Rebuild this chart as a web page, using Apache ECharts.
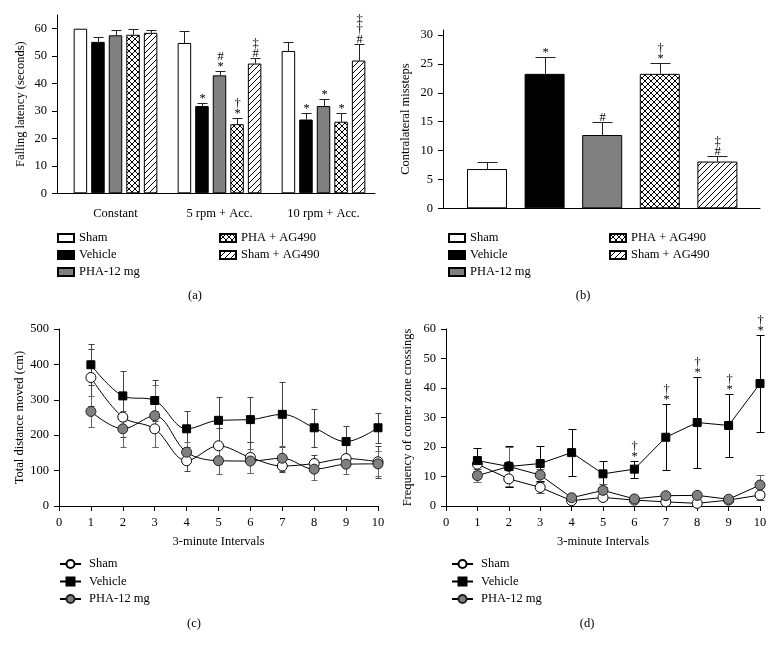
<!DOCTYPE html>
<html><head><meta charset="utf-8">
<script src="https://cdn.jsdelivr.net/npm/echarts@6/dist/echarts.min.js"></script>
<style>html,body{margin:0;padding:0;background:#fff}#c{width:773px;height:650px}</style>
</head><body><div id="c"></div>
<script>
// ---------------- data ----------------
const groupNames = ['Sham', 'Vehicle', 'PHA-12 mg', 'PHA + AG490', 'Sham + AG490'];
const lineGroupNames = ['Sham', 'Vehicle', 'PHA-12 mg'];

// (a) rotarod
const rotarodCategories = ['Constant', '5 rpm + Acc.', '10 rpm + Acc.'];
const rotarodPositions = [1, 2, 3];
const rotarodSham = [60, 54.8, 51.9];
const rotarodShamErr = [0, 4.2, 3.1];
const rotarodVehicle = [55.2, 31.8, 26.9];
const rotarodVehicleErr = [1.8, 1.2, 2.2];
const rotarodPHA = [57.6, 43.0, 31.8];
const rotarodPHAErr = [2.0, 1.5, 2.7];
const rotarodPHAAG = [57.8, 25.2, 26.1];
const rotarodPHAAGErr = [2.2, 2.4, 3.0];
const rotarodShamAG = [58.5, 47.3, 48.4];
const rotarodShamAGErr = [1.1, 2.2, 6.1];
const rotarodShamMarks = [[], [], []];
const rotarodVehicleMarks = [[], ['*'], ['*']];
const rotarodPHAMarks = [[], ['*', '#'], ['*']];
const rotarodPHAAGMarks = [[], ['*', '†'], ['*']];
const rotarodShamAGMarks = [[], ['#', '‡'], ['#', '†', '‡']];
const rotarodTicks = [0, 10, 20, 30, 40, 50, 60];

// (b) missteps
const misstepPositions = [1, 2, 3, 4, 5];
const misstepValues = [6.8, 23.3, 12.7, 23.3, 8.1];
const misstepErr = [1.2, 2.9, 2.3, 1.8, 0.9];
const misstepMarks = [[], ['*'], ['#'], ['*', '†'], ['#', '‡']];
const misstepTicks = [0, 5, 10, 15, 20, 25, 30];

// (c) distance moved
const intervals = [1, 2, 3, 4, 5, 6, 7, 8, 9, 10];
const intervalTicks = [0, 1, 2, 3, 4, 5, 6, 7, 8, 9, 10];
const distSham = [363, 251, 218, 128, 170, 137, 113, 120, 134, 125];
const distShamErr = [81, 55, 50, 28, 50, 45, 18, 25, 12, 45];
const distVehicle = [399, 311, 298, 218, 242, 244, 259, 221, 182, 221];
const distVehicleErr = [58, 70, 59, 50, 65, 63, 92, 53, 43, 43];
const distPHA = [267, 218, 255, 152, 128, 127, 135, 104, 118, 119];
const distPHAErr = [45, 50, 88, 30, 38, 35, 35, 30, 28, 35];
const distanceTicks = [0, 100, 200, 300, 400, 500];

// (d) corner zone crossings
const crossSham = [14.2, 9.2, 6.3, 1.8, 2.9, 2.0, 1.4, 0.9, 2.0, 3.7];
const crossShamErr = [2.5, 2.9, 1.9, 0.6, 0.8, 0.5, 0.5, 0.4, 0.5, 1.5];
const crossVehicle = [15.4, 13.4, 14.4, 18.1, 10.9, 12.5, 23.3, 28.3, 27.3, 41.5];
const crossVehicleErr = [4.4, 7.0, 6.0, 8.0, 4.5, 2.9, 11.2, 15.5, 10.6, 16.4];
const crossPHA = [10.3, 13.4, 10.5, 2.8, 5.3, 2.4, 3.5, 3.6, 2.3, 7.1];
const crossPHAErr = [2.3, 6.5, 2.2, 0.8, 2.0, 0.6, 1.0, 1.0, 0.6, 3.5];
const crossVehicleMarks = [[], [], [], [], [], ['*', '†'], ['*', '†'], ['*', '†'], ['*', '†'], ['*', '†']];
const crossingTicks = [0, 10, 20, 30, 40, 50, 60];

// ---------------- styling helpers ----------------
const FONT = '"Liberation Serif", "DejaVu Serif", serif';
const txt = { fontFamily: FONT, fontSize: 12.5, color: '#000' };

function makePattern(kind) {
  const c = document.createElement('canvas');
  c.width = 6; c.height = 6;
  const g = c.getContext('2d');
  g.fillStyle = '#fff'; g.fillRect(0, 0, 6, 6);
  g.strokeStyle = '#000'; g.lineWidth = 1;
  g.beginPath();
  if (kind === 'cross') {
    g.moveTo(0, 0); g.lineTo(6, 6);
    g.moveTo(0, 6); g.lineTo(6, 0);
  } else {
    g.moveTo(-1, 7); g.lineTo(7, -1);
    g.moveTo(-1, 1); g.lineTo(1, -1);
    g.moveTo(5, 7); g.lineTo(7, 5);
  }
  g.stroke();
  return { image: c, repeat: 'repeat' };
}
const crossPat = makePattern('cross');
const hatchPat = makePattern('hatch');
const barFills = ['#ffffff', '#000000', '#808080', crossPat, hatchPat];

function pairs(xs, ys) { return xs.map((x, i) => [x, ys[i]]); }
function triples(xs, ys, es) { return xs.map((x, i) => [x, ys[i], es[i]]); }

function errRender(opts) {
  return function (params, api) {
    const x = api.value(0), v = api.value(1), e = api.value(2);
    const base = api.coord([x, v]);
    const top = api.coord([x, v + e]);
    const bot = api.coord([x, v - e]);
    const cx = Math.round(base[0] + opts.offset) + 0.5;
    const ty = Math.round(top[1]) + 0.5;
    const style = { stroke: opts.color, lineWidth: 1 };
    const children = [];
    if (e > 0) {
      const y0 = opts.both ? Math.round(bot[1]) + 0.5 : base[1];
      children.push({ type: 'line', shape: { x1: cx, y1: y0, x2: cx, y2: ty }, style });
      children.push({ type: 'line', shape: { x1: cx - opts.cap, y1: ty, x2: cx + opts.cap, y2: ty }, style });
      if (opts.both) children.push({ type: 'line', shape: { x1: cx - opts.cap, y1: y0, x2: cx + opts.cap, y2: y0 }, style });
    }
    const marks = opts.marks ? opts.marks[params.dataIndex] : null;
    if (marks && marks.length) {
      children.push({
        type: 'text', x: cx, y: ty - opts.markGap,
        style: { text: marks.slice().reverse().join('\n'), fill: '#000', font: '12.5px ' + FONT,
                 align: 'center', verticalAlign: 'bottom', lineHeight: 10 }
      });
    }
    return { type: 'group', children };
  };
}

function yAxisCfg(grid, max, ticks, name, nameGap) {
  return {
    type: 'value', gridIndex: grid, min: 0, max: max,
    name: name, nameLocation: 'middle', nameGap: nameGap, nameRotate: 90,
    nameTextStyle: txt,
    axisLine: { show: true, lineStyle: { color: '#000', width: 1 } },
    axisTick: { show: true, inside: false, length: 5, customValues: ticks, lineStyle: { color: '#000' } },
    axisLabel: Object.assign({ margin: 10, customValues: ticks }, txt),
    splitLine: { show: false }
  };
}

// ---------------- series ----------------
const series = [];
const barW = 13.5, barGapRatio = 0.3, pitch = barW * (1 + barGapRatio);
const rotarodVals = [rotarodSham, rotarodVehicle, rotarodPHA, rotarodPHAAG, rotarodShamAG];
const rotarodErrs = [rotarodShamErr, rotarodVehicleErr, rotarodPHAErr, rotarodPHAAGErr, rotarodShamAGErr];
const rotarodMarks = [rotarodShamMarks, rotarodVehicleMarks, rotarodPHAMarks, rotarodPHAAGMarks, rotarodShamAGMarks];

groupNames.forEach((nm, i) => {
  series.push({
    type: 'bar', name: nm, xAxisIndex: 0, yAxisIndex: 0,
    data: pairs(rotarodPositions, rotarodVals[i]),
    barWidth: barW, barGap: (barGapRatio * 100) + '%',
    itemStyle: { color: barFills[i], borderColor: '#000', borderWidth: 1 }
  });
});
groupNames.forEach((nm, i) => {
  series.push({
    type: 'custom', name: 'errA' + i, xAxisIndex: 0, yAxisIndex: 0,
    data: triples(rotarodPositions, rotarodVals[i], rotarodErrs[i]),
    encode: { x: 0, y: 1 }, z: 3,
    renderItem: errRender({ offset: (i - 2) * pitch, cap: 5, color: '#222', both: false, marks: rotarodMarks[i], markGap: 0 })
  });
});

// (b)
groupNames.forEach((nm, i) => {
  series.push({
    type: 'bar', name: nm, xAxisIndex: 1, yAxisIndex: 1,
    data: [[misstepPositions[i], misstepValues[i]]],
    barWidth: 40, barGap: '-100%',
    itemStyle: { color: barFills[i], borderColor: '#000', borderWidth: 1 }
  });
});
series.push({
  type: 'custom', name: 'errB', xAxisIndex: 1, yAxisIndex: 1,
  data: triples(misstepPositions, misstepValues, misstepErr),
  encode: { x: 0, y: 1 }, z: 3,
  renderItem: errRender({ offset: 0, cap: 10, color: '#222', both: false, marks: misstepMarks, markGap: 0 })
});

// line helpers
const lineMarkers = [
  { symbol: 'circle', symbolSize: 10, itemStyle: { color: '#fff', borderColor: '#000', borderWidth: 1 } },
  { symbol: 'rect', symbolSize: 8, itemStyle: { color: '#000', borderColor: '#000', borderWidth: 1 } },
  { symbol: 'circle', symbolSize: 10, itemStyle: { color: '#808080', borderColor: '#222', borderWidth: 1 } }
];
function addLinePanel(prefix, axisIdx, vals, errs, smooth, errColors, cap, marksList) {
  vals.forEach((v, i) => {
    series.push({
      type: 'custom', name: prefix + 'err' + i, xAxisIndex: axisIdx, yAxisIndex: axisIdx,
      data: triples(intervals, v, errs[i]), encode: { x: 0, y: 1 }, z: 2,
      renderItem: errRender({ offset: 0, cap: cap, color: errColors[i], both: true, marks: marksList[i], markGap: 0 })
    });
  });
  const order = [0, 2, 1];
  order.forEach((i) => {
    series.push(Object.assign({
      type: 'line', name: prefix + lineGroupNames[i], xAxisIndex: axisIdx, yAxisIndex: axisIdx,
      data: pairs(intervals, vals[i]), smooth: smooth, z: 4,
      lineStyle: { color: '#000', width: 1 }
    }, lineMarkers[i]));
  });
}
addLinePanel('c:', 2, [distSham, distVehicle, distPHA], [distShamErr, distVehicleErr, distPHAErr], 0.35,
  ['#444', '#444', '#666'], 3, [null, null, null]);
addLinePanel('d:', 3, [crossSham, crossVehicle, crossPHA], [crossShamErr, crossVehicleErr, crossPHAErr], false,
  ['#555', '#000', '#666'], 4, [null, crossVehicleMarks, null]);

// ---------------- legends ----------------
function barLegend(names, left) {
  return {
    data: names.map(n => ({ name: n, icon: 'rect' })), left: left, top: 231, orient: 'vertical',
    padding: 0, itemWidth: 16, itemHeight: 8, itemGap: 3,
    textStyle: Object.assign({ lineHeight: 14 }, txt),
    selectedMode: false
  };
}
function lineLegend(prefix, left) {
  return {
    data: lineGroupNames.map(n => prefix + n), left: left, top: 557, orient: 'vertical',
    padding: 0, itemWidth: 21, itemHeight: 10, itemGap: 3.5,
    textStyle: Object.assign({ lineHeight: 14, padding: [0, 0, 0, 3] }, txt),
    formatter: (n) => n.replace(/^[cd]:/, ''),
    selectedMode: false
  };
}

const option = {
  animation: false,
  backgroundColor: '#fff',
  grid: [
    { left: 57, top: 15, width: 318, height: 178.3 },
    { left: 443, top: 30, width: 317, height: 178.3 },
    { left: 59, top: 329, width: 319, height: 177 },
    { left: 446, top: 329, width: 314, height: 177 }
  ],
  xAxis: [
    { type: 'value', gridIndex: 0, min: 0.4375, max: 3.495,
      axisLine: { lineStyle: { color: '#000' } }, axisTick: { show: false }, splitLine: { show: false },
      axisLabel: Object.assign({ margin: 14, customValues: rotarodPositions,
        formatter: (v) => rotarodCategories[Math.round(v) - 1] }, txt) },
    { type: 'value', gridIndex: 1, min: 0.236, max: 5.74,
      axisLine: { lineStyle: { color: '#000' } }, axisTick: { show: false }, splitLine: { show: false },
      axisLabel: { show: false } },
    { type: 'value', gridIndex: 2, min: 0, max: 10, interval: 1,
      name: '3-minute Intervals', nameLocation: 'middle', nameGap: 29, nameTextStyle: txt,
      axisLine: { lineStyle: { color: '#000' } },
      axisTick: { length: 5, customValues: intervalTicks, lineStyle: { color: '#000' } },
      splitLine: { show: false },
      axisLabel: Object.assign({ margin: 10, customValues: intervalTicks }, txt) },
    { type: 'value', gridIndex: 3, min: 0, max: 10, interval: 1,
      name: '3-minute Intervals', nameLocation: 'middle', nameGap: 29, nameTextStyle: txt,
      axisLine: { lineStyle: { color: '#000' } },
      axisTick: { length: 5, customValues: intervalTicks, lineStyle: { color: '#000' } },
      splitLine: { show: false },
      axisLabel: Object.assign({ margin: 10, customValues: intervalTicks }, txt) }
  ],
  yAxis: [
    yAxisCfg(0, 65, rotarodTicks, 'Falling latency (seconds)', 30),
    yAxisCfg(1, 30.9, misstepTicks, 'Contralateral missteps', 31),
    yAxisCfg(2, 500, distanceTicks, 'Total distance moved (cm)', 33),
    yAxisCfg(3, 60, crossingTicks, 'Frequency of corner zone crossings', 32)
  ],
  legend: [
    barLegend(groupNames.slice(0, 3), 57),
    barLegend(groupNames.slice(3), 219),
    barLegend(groupNames.slice(0, 3), 448),
    barLegend(groupNames.slice(3), 609),
    lineLegend('c:', 59),
    lineLegend('d:', 451)
  ],
  graphic: [
    { type: 'text', x: 195, y: 296, style: { text: '(a)', font: '12.5px ' + FONT, fill: '#000', align: 'center', verticalAlign: 'middle' } },
    { type: 'text', x: 583, y: 296, style: { text: '(b)', font: '12.5px ' + FONT, fill: '#000', align: 'center', verticalAlign: 'middle' } },
    { type: 'text', x: 194, y: 624, style: { text: '(c)', font: '12.5px ' + FONT, fill: '#000', align: 'center', verticalAlign: 'middle' } },
    { type: 'text', x: 587, y: 624, style: { text: '(d)', font: '12.5px ' + FONT, fill: '#000', align: 'center', verticalAlign: 'middle' } }
  ],
  series: series
};

const chart = echarts.init(document.getElementById('c'), null, { renderer: 'canvas' });
chart.setOption(option);
</script>
</body></html>
